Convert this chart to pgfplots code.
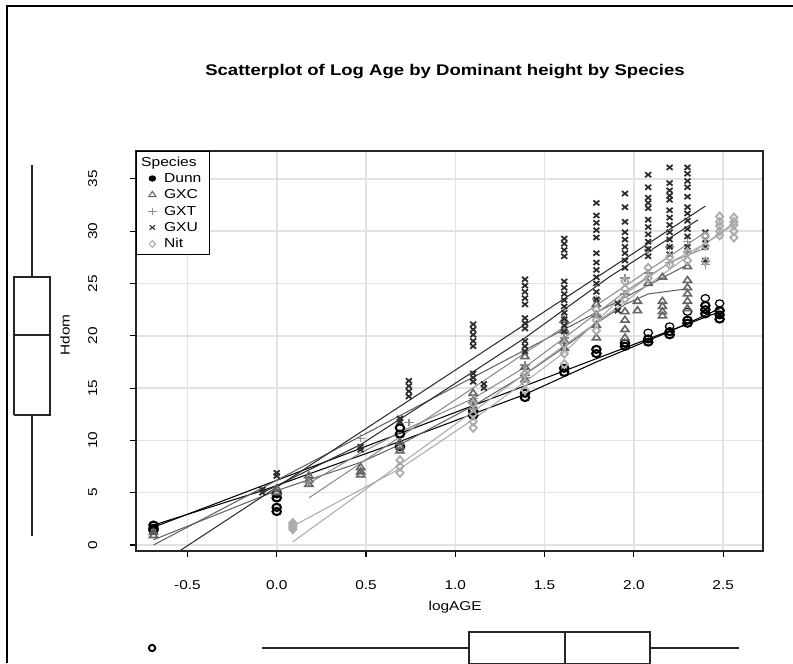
\documentclass[border=0pt]{standalone}
\usepackage{pgfplots}
\pgfplotsset{compat=1.18}
\usepackage{fontspec}
\setmainfont{Liberation Sans}[FakeStretch=1.2]
\definecolor{cDunn}{HTML}{000000}
\definecolor{cGXC}{HTML}{636363}
\definecolor{cGXT}{HTML}{8C8C8C}
\definecolor{cGXU}{HTML}{2E2E2E}
\definecolor{cNit}{HTML}{ABABAB}
\definecolor{gridc}{HTML}{E2E2E2}
\begin{document}
\begin{tikzpicture}
\path[use as bounding box] (0,0) rectangle (15.86cm,13.26cm);
\draw[line width=0.85pt, black] (0.14cm,0) -- (0.14cm,13.14cm) -- (15.86cm,13.14cm);

% main scatter
\begin{axis}[name=main, at={(2.72cm,2.24cm)}, anchor=south west, scale only axis,
  width=12.54cm, height=8cm,
  xmin=-0.788, xmax=2.723, ymin=-0.574, ymax=37.67,
  xtick={-0.5,0,0.5,1,1.5,2,2.5}, ytick={0,5,10,15,20,25,30,35},
  /pgf/number format/assume math mode=true,
  tick align=outside, xtick pos=left, ytick pos=left,
  major tick length=3.5pt, tick style={black, line width=0.6pt},
  axis line style={line width=1.2pt, black!85},
  grid=major, grid style={gridc, line width=0.9pt},
  x tick label style={font=\fontsize{7.3}{8}\selectfont, yshift=-9.6pt,
     /pgf/number format/fixed, /pgf/number format/fixed zerofill, /pgf/number format/precision=1},
  y tick label style={font=\fontsize{7.3}{8}\selectfont, xshift=-15pt, rotate=90, anchor=south},
  xlabel={logAGE}, ylabel={Hdom},
  x label style={at={(axis description cs:0.509,-0.14)}, anchor=center, font=\fontsize{7.3}{8}\selectfont},
  y label style={at={(axis description cs:-0.1132,0.54)}, anchor=center, font=\fontsize{7.3}{8}\selectfont},
  title={Scatterplot of Log Age by Dominant height by Species},
  title style={at={(axis description cs:0.4928,1.1725)}, anchor=center, font=\bfseries\fontsize{8.8}{10}\selectfont},
  legend image code/.code={\draw[mark repeat=2,mark phase=2,#1] plot coordinates {(0cm,0cm) (0.15cm,0cm) (0.3cm,0cm)};},
  legend style={at={(0,1)}, anchor=north west, draw=black, line width=0.6pt, fill=white,
     font=\fontsize{7.4}{8}\selectfont, inner xsep=4.75pt, inner ysep=2.3pt,
     column sep=4.25pt, row sep=1.8pt,
     nodes={inner sep=0pt, text height=6pt, text depth=1.5pt}},
  legend cell align=left,
]
% ---------- Dunn ----------
\addplot[forget plot, only marks, cDunn, mark=o, mark size=2pt, mark options={xscale=1.2, line width=1.2pt}] coordinates {
(-0.69,1.9)(-0.69,1.6)(-0.69,1.4)
(0,3.2)(0,3.6)(0,4.5)(0,4.9)
(0.69,11.2)(0.69,10.6)(0.69,9.4)
(1.1,12.4)(1.1,12.8)
(1.39,14.1)(1.39,14.5)
(1.61,16.5)(1.61,16.9)
(1.79,18.3)(1.79,18.7)
(1.95,19.0)(1.95,19.3)
(2.08,19.4)(2.08,19.7)
(2.2,20.1)(2.2,20.4)
(2.3,21.2)(2.3,21.5)
(2.4,22.1)(2.4,22.5)(2.4,22.9)
(2.48,21.6)(2.48,22.0)(2.48,22.4)
};
\addplot[forget plot, only marks, cDunn, mark=o, mark size=2pt, mark options={xscale=1.2, line width=0.7pt}] coordinates {
(2.08,20.3)(2.2,20.9)(2.3,22.3)(2.4,23.6)(2.48,23.1)
};
\addplot[forget plot, cDunn, line width=0.6pt] coordinates {(-0.69,1.7)(2.48,22.3)};
\addplot[forget plot, cDunn, line width=0.6pt] coordinates {(-0.69,1.9)(-0.08,5.2)(0.69,9.9)(1.39,14.4)(1.79,17.5)(2.2,20.4)(2.48,22.6)};
% ---------- GXC ----------
\addplot[forget plot, only marks, cGXC, mark=triangle, mark size=2.2pt, mark options={xscale=1.2, line width=0.9pt}] coordinates {
(-0.69,1.2)(-0.69,0.9)
(0,5.0)(0,5.4)
(0.18,6.2)(0.18,5.8)(0.18,6.6)
(0.47,7.4)(0.47,7.0)(0.47,6.7)
(0.69,9.8)(0.69,9.4)(0.69,9.0)
(1.1,14.5)(1.1,13.8)(1.1,13.2)
(1.39,18.0)(1.39,17.0)(1.39,16.4)(1.39,15.8)
(1.61,21.5)(1.61,20.5)(1.61,19.5)(1.61,18.8)
(1.79,23.0)(1.79,22.0)(1.79,21.0)(1.79,19.8)
(1.95,22.3)(1.95,21.5)(1.95,20.6)(1.95,19.8)
(2.02,23.3)(2.02,22.4)
(2.08,25.0)
(2.16,23.3)(2.16,22.8)(2.16,22.3)(2.16,21.9)(2.16,25.6)
(2.3,26.6)(2.3,25.3)(2.3,24.6)(2.3,24.0)(2.3,23.3)(2.3,22.6)
};
\addplot[forget plot, cGXC, line width=0.6pt] coordinates {(-0.69,0.0)(2.3,26.8)};
\addplot[forget plot, cGXC, line width=0.6pt] coordinates {(-0.69,0.5)(0,5.2)(0.47,7.9)(0.69,9.6)(1.1,13.3)(1.39,16.3)(1.61,18.9)(1.79,21.2)(1.95,23.0)(2.08,24.0)(2.3,24.5)};
% ---------- GXT ----------
\addplot[forget plot, only marks, cGXT, mark=+, mark size=2.2pt, mark options={xscale=1.2, line width=0.9pt}] coordinates {
(0.18,6.0)(0.47,10.2)(0.74,11.7)
(1.1,14.0)(1.1,13.0)(1.39,16.0)(1.39,17.2)
(1.61,20.5)(1.61,19.8)(1.79,23.5)(1.79,22.0)
(1.95,25.5)(1.95,24.0)(2.08,28.2)(2.08,26.0)
(2.2,28.5)(2.2,27.0)(2.3,29.0)(2.3,28.0)(2.4,27.2)(2.4,26.8)
};
\addplot[forget plot, cGXT, line width=0.6pt] coordinates {(0.18,4.5)(2.4,29.9)};
\addplot[forget plot, cGXT, line width=0.6pt] coordinates {(0.18,5.9)(0.47,8.8)(0.74,11.2)(1.1,14.0)(1.39,17.0)(1.61,19.8)(1.95,24.2)(2.2,27.0)(2.4,28.4)};
% ---------- GXU ----------
\addplot[forget plot, only marks, cGXU, mark=x, mark size=2pt, mark options={xscale=1.2, line width=1.0pt}] coordinates {
(-0.08,5.3)(-0.08,5.0)
(0,6.9)(0,6.6)
(0.47,9.4)(0.47,9.1)
(0.69,12.1)(0.69,11.8)
(0.74,15.7)(0.74,15.2)(0.74,14.7)(0.74,14.2)
(1.1,21.1)(1.1,20.6)(1.1,20.1)(1.1,19.5)(1.1,19.0)(1.1,16.4)(1.1,16.0)(1.1,15.6)
(1.16,15.4)(1.16,15.0)
(1.39,25.4)(1.39,24.8)(1.39,24.2)(1.39,23.6)(1.39,23.0)(1.39,21.7)(1.39,21.2)(1.39,20.7)(1.39,19.5)(1.39,19.0)(1.39,18.5)
(1.61,29.3)(1.61,28.8)(1.61,28.2)(1.61,27.6)(1.61,25.2)(1.61,24.6)(1.61,24.0)(1.61,23.4)(1.61,22.8)(1.61,22.2)(1.61,21.6)(1.61,21.0)(1.61,20.4)
(1.79,32.7)(1.79,31.5)(1.79,30.8)(1.79,30.1)(1.79,29.4)(1.79,27.9)(1.79,27.0)(1.79,26.3)(1.79,25.6)(1.79,25.0)(1.79,24.2)(1.79,23.5)
(1.91,23.1)(1.91,22.4)
(1.95,33.6)(1.95,32.3)(1.95,30.9)(1.95,29.9)(1.95,29.2)(1.95,28.5)(1.95,27.9)(1.95,27.2)(1.95,26.5)
(2.08,35.4)(2.08,34.2)(2.08,33.2)(2.08,32.7)(2.08,32.2)(2.08,31.1)(2.08,30.4)(2.08,29.7)(2.08,29.0)(2.08,28.3)(2.08,27.6)
(2.2,36.1)(2.2,34.6)(2.2,33.9)(2.2,33.4)(2.2,33.0)(2.2,32.0)(2.2,31.3)(2.2,30.6)(2.2,29.9)(2.2,29.2)(2.2,28.5)(2.2,27.8)
(2.3,36.1)(2.3,35.5)(2.3,34.8)(2.3,34.2)(2.3,33.3)(2.3,32.3)(2.3,31.7)(2.3,31.0)(2.3,30.2)(2.3,29.5)(2.3,28.5)
(2.4,29.9)(2.4,29.2)(2.4,28.5)(2.4,27.2)
};
\addplot[forget plot, cGXU, line width=0.6pt] coordinates {(-0.69,-2.2)(2.40,32.4)};
\addplot[forget plot, cGXU, line width=0.6pt] coordinates {(-0.08,5.0)(0.47,9.6)(0.86,13.9)(1.39,19.8)(1.86,25.6)(2.36,31.1)};
% ---------- Nit ----------
\addplot[forget plot, only marks, cNit, mark=diamond, mark size=2.3pt, mark options={xscale=1.2, line width=1.0pt}] coordinates {
(0.09,2.1)(0.09,1.9)(0.09,1.7)(0.09,1.5)
(0.69,8.1)(0.69,7.5)(0.69,6.9)
(1.1,13.5)(1.1,12.5)(1.1,11.8)(1.1,11.2)
(1.39,16.4)(1.39,15.5)(1.39,14.8)
(1.61,19.2)(1.61,18.3)(1.61,17.3)
(1.79,22.5)(1.79,21.5)(1.79,20.5)
(1.95,25.2)(1.95,24.5)(1.95,23.5)
(2.08,26.5)(2.08,25.5)
(2.2,27.5)(2.2,26.8)
(2.3,28.0)(2.3,27.2)
(2.4,29.5)(2.4,28.6)(2.4,27.1)
(2.48,31.4)(2.48,30.9)(2.48,30.5)(2.48,30.0)(2.48,29.6)
(2.56,31.3)(2.56,30.9)(2.56,30.6)(2.56,30.0)(2.56,29.4)
};
\addplot[forget plot, cNit, line width=0.6pt] coordinates {(0.09,0.3)(2.56,30.8)};
\addplot[forget plot, cNit, line width=0.6pt] coordinates {(0.09,1.8)(0.69,7.3)(1.1,12.0)(1.39,15.6)(1.61,18.4)(1.95,24.0)(2.2,27.0)(2.4,28.8)(2.56,30.6)};
% ---------- legend ----------
\addlegendimage{empty legend}\addlegendentry{\hspace*{-13pt}Species}
\addlegendimage{only marks, mark=*, cDunn, mark size=1.5pt, mark options={xscale=1.2}}\addlegendentry{Dunn}
\addlegendimage{only marks, mark=triangle, cGXC, mark size=2pt, mark options={xscale=1.2, line width=0.6pt}}\addlegendentry{GXC}
\addlegendimage{only marks, mark=+, cGXT, mark size=2pt, mark options={xscale=1.2, line width=0.6pt}}\addlegendentry{GXT}
\addlegendimage{only marks, mark=x, cGXU, mark size=1.8pt, mark options={xscale=1.2, line width=0.6pt}}\addlegendentry{GXU}
\addlegendimage{only marks, mark=diamond, cNit, mark size=2pt, mark options={xscale=1.2, line width=0.6pt}}\addlegendentry{Nit}
\end{axis}

% left marginal boxplot of Hdom
\begin{axis}[at={(0cm,2.24cm)}, anchor=south west, scale only axis, width=1.28cm, height=8cm,
  xmin=-1, xmax=1, ymin=-0.574, ymax=37.67, hide axis, clip=false]
\addplot[black!85, line width=0.65pt] coordinates {(-0.5625,12.43)(0.5625,12.43)(0.5625,25.62)(-0.5625,25.62)(-0.5625,12.43)};
\addplot[black!85, line width=0.65pt] coordinates {(-0.5625,20.08)(0.5625,20.08)};
\addplot[black!85, line width=0.65pt] coordinates {(0,25.62)(0,36.33)};
\addplot[black!85, line width=0.65pt] coordinates {(0,12.43)(0,0.86)};
\end{axis}

% bottom marginal boxplot of logAGE
\begin{axis}[at={(2.72cm,0cm)}, anchor=south west, scale only axis, width=12.54cm, height=1.26cm,
  xmin=-0.788, xmax=2.723, ymin=-1, ymax=1, hide axis]
\addplot[black!85, line width=0.65pt] coordinates {(1.077,-1.03)(2.09,-1.03)(2.09,-0.016)(1.077,-0.016)(1.077,-1.03)};
\addplot[black!85, line width=0.65pt] coordinates {(1.614,-1.03)(1.614,-0.016)};
\addplot[black!85, line width=0.65pt] coordinates {(-0.082,-0.524)(1.077,-0.524)};
\addplot[black!85, line width=0.65pt] coordinates {(2.09,-0.524)(2.586,-0.524)};
\addplot[only marks, black, mark=o, mark size=1.8pt, mark options={line width=1.1pt}] coordinates {(-0.698,-0.524)};
\end{axis}
\end{tikzpicture}
\end{document}
